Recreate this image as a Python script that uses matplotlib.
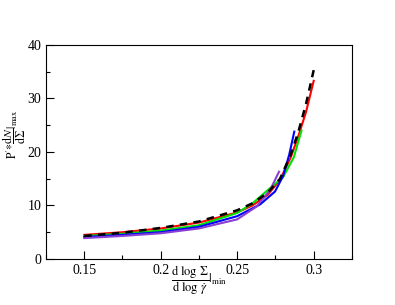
import matplotlib
matplotlib.use("Agg")
import matplotlib.pyplot as plt
from matplotlib.ticker import MultipleLocator

plt.rcParams['font.family'] = ['Liberation Serif', 'DejaVu Serif']
plt.rcParams['mathtext.fontset'] = 'stix'

# curves
red_x = [0.15, 0.175, 0.2, 0.225, 0.25, 0.26, 0.27, 0.278, 0.285, 0.29, 0.295, 0.3]
red_y = [4.5, 5.0, 5.7, 6.8, 8.7, 10.0, 12.0, 14.8, 19.0, 23.0, 27.5, 33.3]

black_x = [0.15, 0.175, 0.2, 0.225, 0.25, 0.26, 0.27, 0.278, 0.285, 0.29, 0.295, 0.3]
black_y = [4.3, 4.9, 5.8, 7.0, 9.1, 10.4, 12.4, 15.0, 19.5, 23.8, 29.0, 35.3]

green_x = [0.15, 0.175, 0.2, 0.225, 0.25, 0.26, 0.2725, 0.28, 0.287, 0.292]
green_y = [4.3, 4.7, 5.3, 6.3, 8.6, 10.4, 13.5, 15.3, 19.0, 24.0]

blue_x = [0.15, 0.175, 0.2, 0.225, 0.25, 0.265, 0.2747, 0.28, 0.284, 0.2873]
blue_y = [4.1, 4.5, 5.0, 6.0, 8.0, 10.2, 12.6, 15.5, 19.5, 23.8]

purple_x = [0.15, 0.175, 0.2, 0.225, 0.25, 0.2627, 0.2717, 0.2773]
purple_y = [3.9, 4.3, 4.8, 5.7, 7.4, 9.8, 13.0, 16.3]

fig = plt.figure(figsize=(3.95, 3.05), dpi=100)
ax = fig.add_axes([0.1165, 0.151, 0.7745, 0.7015])

ax.plot(red_x, red_y, color='red', lw=1.5)
ax.plot(green_x, green_y, color='#00e000', lw=1.5)
ax.plot(blue_x, blue_y, color='blue', lw=1.5)
ax.plot(purple_x, purple_y, color='#8a3fd0', lw=1.5)
ax.plot(black_x, black_y, color='black', lw=1.8, ls=(0, (3, 2.5)))

ax.set_xlim(0.125, 0.325)
ax.set_ylim(0, 40)
ax.set_xticks([0.15, 0.2, 0.25, 0.3])
ax.set_xticklabels(['0.15', '0.2', '0.25', '0.3'])
ax.set_yticks([0, 10, 20, 30, 40])
ax.xaxis.set_minor_locator(MultipleLocator(0.025))
ax.yaxis.set_minor_locator(MultipleLocator(5))
ax.tick_params(direction='in', which='both', labelsize=10, width=0.8)
ax.tick_params(which='major', length=6)
ax.tick_params(which='minor', length=3)
for s in ax.spines.values():
    s.set_linewidth(0.8)

ax.text(0.5, -0.1, r"$\dfrac{\mathrm{d\ log\ }\Sigma}{\mathrm{d\ log\ }\dot{\gamma}}|_{\mathrm{min}}$",
        transform=ax.transAxes, ha='center', va='center', fontsize=9)
fig.text(0.036, 0.56, r"$\mathrm{P}'{*}\dfrac{\mathrm{d}N}{\mathrm{d}\Sigma}|_{\mathrm{max}}$",
         rotation=90, ha='center', va='center', fontsize=8.5)

fig.savefig("out.png", dpi=100)
